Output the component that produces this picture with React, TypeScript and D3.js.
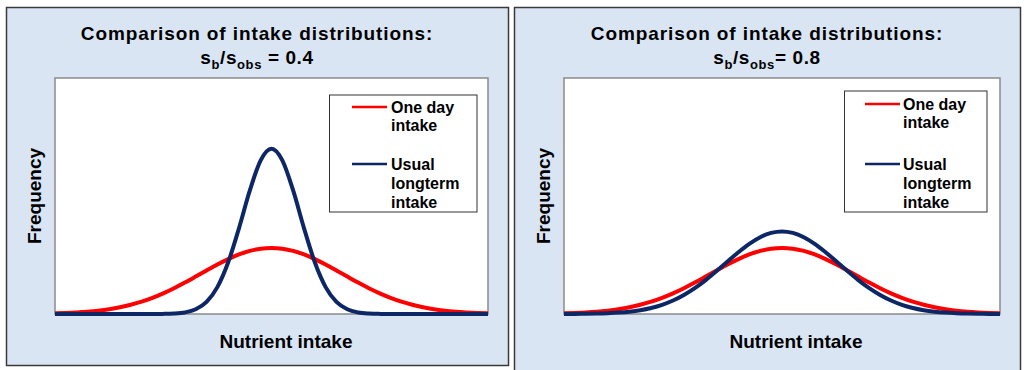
import React from 'react';
import * as d3 from 'd3';

// nutrient intake positions (arbitrary units, 0-100)
const intake = [
  0, 2.5, 5, 7.5, 10, 12.5, 15, 17.5, 20, 22.5, 25, 27.5, 30, 32.5, 35, 37.5, 40, 42.5, 45, 47.5,
  50, 52.5, 55, 57.5, 60, 62.5, 65, 67.5, 70, 72.5, 75, 77.5, 80, 82.5, 85, 87.5, 90, 92.5, 95, 97.5, 100,
];

// frequency (percent of plot height)
const oneDay = [
  0.27, 0.42, 0.65, 0.97, 1.43, 2.05, 2.87, 3.93, 5.25, 6.86, 8.76, 10.93, 13.31, 15.85, 18.43, 20.94, 23.25, 25.22, 26.73, 27.68,
  28, 27.68, 26.73, 25.22, 23.25, 20.94, 18.43, 15.85, 13.31, 10.93, 8.76, 6.86, 5.25, 3.93, 2.87, 2.05, 1.43, 0.97, 0.65, 0.42, 0.27,
];
const usualNarrow = [
  0, 0, 0, 0, 0, 0, 0, 0, 0, 0.01, 0.05, 0.2, 0.67, 2.0, 5.13, 11.39, 21.91, 36.42, 52.35, 65.1,
  70, 65.1, 52.35, 36.42, 21.91, 11.39, 5.13, 2.0, 0.67, 0.2, 0.05, 0.01, 0, 0, 0, 0, 0, 0, 0, 0, 0,
];
const usualWide = [
  0.02, 0.05, 0.1, 0.18, 0.34, 0.59, 1.0, 1.63, 2.56, 3.89, 5.7, 8.04, 10.95, 14.38, 18.21, 22.23, 26.18, 29.73, 32.55, 34.37,
  35, 34.37, 32.55, 29.73, 26.18, 22.23, 18.21, 14.38, 10.95, 8.04, 5.7, 3.89, 2.56, 1.63, 1.0, 0.59, 0.34, 0.18, 0.1, 0.05, 0.02,
];

const ratios = ['0.4', '0.8'];
const legendLabels = [['One day', 'intake'], ['Usual', 'longterm', 'intake']];

const RED = '#ff0000';
const NAVY = '#0d2766';
const BG = '#dae5f4';
const FONT = '"Liberation Sans", Arial, sans-serif';

type PanelProps = {
  box: { x: number; y: number; w: number; h: number };
  plot: { x0: number; x1: number; y0: number; y1: number };
  titleX: number;
  freqX: number;
  xLabelX: number;
  legend: { x0: number; x1: number; y0: number; y1: number; line0: number; line1: number; text: number; y: number[] };
  ratio: string;
  usual: number[];
  gapBeforeEq: boolean;
};

function Panel(p: PanelProps) {
  const x = d3.scaleLinear().domain([0, 100]).range([p.plot.x0, p.plot.x1]);
  const y = d3.scaleLinear().domain([0, 100]).range([p.plot.y1, p.plot.y0]);
  const line = d3
    .line<number>()
    .x((d, i) => x(intake[i]))
    .y((d) => y(d))
    .curve(d3.curveMonotoneX);
  const midY = (p.plot.y0 + p.plot.y1) / 2;
  const lg = p.legend;
  return (
    <g>
      <rect x={p.box.x} y={p.box.y} width={p.box.w} height={p.box.h} fill={BG} stroke="#3a3a3a" strokeWidth={1.5} />
      <text x={p.titleX} y={40} textAnchor="middle" fontSize={19} fontWeight="bold" letterSpacing={0.9} fill="#000">
        Comparison of intake distributions:
      </text>
      <text x={p.titleX} y={64} textAnchor="middle" fontSize={19} fontWeight="bold" letterSpacing={0.6} fill="#000">
        <tspan>s</tspan>
        <tspan fontSize={13} dy={5}>b</tspan>
        <tspan dy={-5}>/s</tspan>
        <tspan fontSize={13} dy={5}>obs</tspan>
        <tspan dy={-5}>{(p.gapBeforeEq ? ' ' : '') + '= ' + p.ratio}</tspan>
      </text>
      <rect
        x={p.plot.x0}
        y={p.plot.y0}
        width={p.plot.x1 - p.plot.x0}
        height={p.plot.y1 - p.plot.y0}
        fill="#fff"
        stroke="#8a8a8a"
        strokeWidth={1.5}
      />
      <path d={line(oneDay) ?? ''} fill="none" stroke={RED} strokeWidth={4} />
      <path d={line(p.usual) ?? ''} fill="none" stroke={NAVY} strokeWidth={4} />
      <text
        transform={`translate(${p.freqX},${midY}) rotate(-90)`}
        textAnchor="middle"
        fontSize={19}
        fontWeight="bold"
        dy="0.35em"
      >
        Frequency
      </text>
      <text x={p.xLabelX} y={348} textAnchor="middle" fontSize={19} fontWeight="bold">
        Nutrient intake
      </text>
      <rect x={lg.x0} y={lg.y0} width={lg.x1 - lg.x0} height={lg.y1 - lg.y0} fill="#fff" stroke="#333" strokeWidth={1} />
      <line x1={lg.line0} x2={lg.line1} y1={lg.y[0] - 6} y2={lg.y[0] - 6} stroke={RED} strokeWidth={2.5} />
      <line x1={lg.line0} x2={lg.line1} y1={lg.y[2] - 6} y2={lg.y[2] - 6} stroke={NAVY} strokeWidth={2.5} />
      {legendLabels.flat().map((t, i) => (
        <text key={i} x={lg.text} y={lg.y[i]} fontSize={16} fontWeight="bold">
          {t}
        </text>
      ))}
    </g>
  );
}

export default function App() {
  return (
    <svg
      width={1024}
      height={370}
      style={{ position: 'absolute', left: 0, top: 0, fontFamily: FONT, background: '#fff' }}
    >
      <Panel
        box={{ x: 6.5, y: 7.5, w: 502, h: 358 }}
        plot={{ x0: 55, x1: 488, y0: 78, y1: 314 }}
        titleX={257}
        freqX={34}
        xLabelX={286}
        legend={{ x0: 329.5, x1: 477, y0: 95, y1: 212, line0: 352, line1: 387, text: 391, y: [113, 131, 170, 189, 208] }}
        ratio={ratios[0]}
        usual={usualNarrow}
        gapBeforeEq={true}
      />
      <Panel
        box={{ x: 514.5, y: 7.5, w: 506, h: 372 }}
        plot={{ x0: 564, x1: 1000, y0: 78, y1: 314 }}
        titleX={767}
        freqX={543}
        xLabelX={796}
        legend={{ x0: 844.5, x1: 987, y0: 91, y1: 212, line0: 865, line1: 900, text: 903, y: [110, 128, 170, 189, 208] }}
        ratio={ratios[1]}
        usual={usualWide}
        gapBeforeEq={false}
      />
    </svg>
  );
}
